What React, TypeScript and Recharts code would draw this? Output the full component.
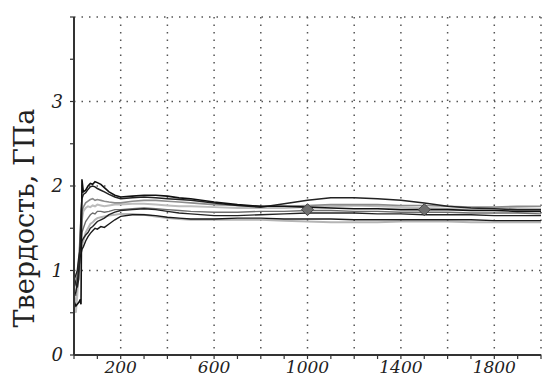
import React from 'react';
import {
  ComposedChart,
  Line,
  Scatter,
  XAxis,
  YAxis,
  CartesianGrid,
} from 'recharts';

// depth points (nm) shared by all curves
const depth = [2, 8, 14, 20, 26, 30, 34, 40, 50, 60, 70, 80, 90, 100, 115, 130, 150, 175, 200, 250, 300, 350, 400, 450, 500, 600, 700, 800, 900, 1000, 1100, 1200, 1300, 1400, 1500, 1600, 1700, 1800, 1900, 2000];

const curve1 = [0.62, 0.58, 0.6, 0.62, 0.65, 0.6, 2.08, 1.93, 1.95, 2.0, 2.03, 2.02, 2.05, 2.04, 2.02, 1.98, 1.93, 1.89, 1.87, 1.88, 1.89, 1.89, 1.88, 1.86, 1.85, 1.81, 1.78, 1.76, 1.76, 1.75, 1.74, 1.73, 1.73, 1.72, 1.72, 1.72, 1.71, 1.71, 1.7, 1.7];
const curve2 = [0.9, 0.85, 0.8, 0.9, 1.3, 1.7, 1.85, 1.9, 1.92, 1.96, 1.99, 2.0, 1.99, 1.97, 1.95, 1.93, 1.9, 1.87, 1.85, 1.86, 1.87, 1.86, 1.85, 1.84, 1.83, 1.8, 1.77, 1.75, 1.79, 1.83, 1.86, 1.86, 1.85, 1.83, 1.8, 1.76, 1.74, 1.73, 1.72, 1.72];
const curve3 = [0.75, 0.7, 0.85, 1.1, 1.4, 1.6, 1.7, 1.75, 1.8, 1.82, 1.84, 1.85, 1.83, 1.84, 1.83, 1.82, 1.81, 1.8, 1.8, 1.82, 1.83, 1.83, 1.82, 1.81, 1.8, 1.78, 1.77, 1.76, 1.76, 1.77, 1.78, 1.78, 1.78, 1.77, 1.77, 1.76, 1.75, 1.75, 1.76, 1.76];
const curve4 = [0.55, 0.5, 0.7, 1.0, 1.3, 1.5, 1.6, 1.7, 1.74, 1.76, 1.75, 1.77, 1.76, 1.78, 1.77, 1.76, 1.77, 1.78, 1.78, 1.79, 1.79, 1.78, 1.77, 1.76, 1.76, 1.75, 1.74, 1.74, 1.74, 1.75, 1.76, 1.77, 1.76, 1.75, 1.74, 1.73, 1.72, 1.74, 1.74, 1.73];
const curve5 = [0.8, 0.85, 0.95, 1.1, 1.25, 1.35, 1.45, 1.5, 1.58, 1.62, 1.66, 1.68, 1.67, 1.7, 1.7, 1.69, 1.7, 1.72, 1.72, 1.73, 1.74, 1.73, 1.72, 1.71, 1.7, 1.69, 1.69, 1.7, 1.7, 1.71, 1.71, 1.7, 1.7, 1.69, 1.69, 1.69, 1.68, 1.68, 1.68, 1.67];
const curve6 = [0.9, 0.95, 1.0, 1.15, 1.25, 1.3, 1.35, 1.38, 1.42, 1.45, 1.5, 1.52, 1.55, 1.58, 1.6, 1.62, 1.66, 1.69, 1.71, 1.72, 1.73, 1.72, 1.7, 1.68, 1.67, 1.65, 1.65, 1.66, 1.67, 1.68, 1.68, 1.68, 1.67, 1.67, 1.66, 1.66, 1.66, 1.65, 1.65, 1.65];
const curve7 = [0.7, 0.75, 0.85, 1.0, 1.15, 1.2, 1.25, 1.28, 1.35, 1.4, 1.44, 1.47, 1.5, 1.49, 1.52, 1.51, 1.55, 1.6, 1.64, 1.66, 1.66, 1.65, 1.63, 1.62, 1.61, 1.61, 1.62, 1.62, 1.61, 1.61, 1.61, 1.6, 1.6, 1.6, 1.6, 1.6, 1.6, 1.59, 1.59, 1.59];
const curve8 = [0.6, 0.65, 0.8, 0.95, 1.1, 1.2, 1.3, 1.35, 1.45, 1.5, 1.55, 1.57, 1.6, 1.62, 1.63, 1.64, 1.65, 1.66, 1.67, 1.67, 1.66, 1.64, 1.62, 1.61, 1.6, 1.6, 1.6, 1.6, 1.59, 1.58, 1.57, 1.57, 1.57, 1.58, 1.58, 1.58, 1.57, 1.57, 1.57, 1.57];

// averaged points marked with diamonds
const markX = [1000, 1500];
const markY = [1.72, 1.72];

const xTicks = [0, 100, 200, 300, 400, 500, 600, 700, 800, 900, 1000, 1100, 1200, 1300, 1400, 1500, 1600, 1700, 1800, 1900, 2000];
const xLabels = [200, 600, 1000, 1400, 1800];
const yTicks = [0, 0.5, 1, 1.5, 2, 2.5, 3, 3.5, 4];
const yLabels = [0, 1, 2, 3];
const gridX = [200, 400, 600, 800, 1000, 1200, 1400, 1600, 1800, 2000];
const gridY = [1, 2, 3, 4];

const series = [
  { key: 's8', data: curve8, color: '#b5b5b5', w: 2 },
  { key: 's4', data: curve4, color: '#bdbdbd', w: 2 },
  { key: 's3', data: curve3, color: '#8c8c8c', w: 1.6 },
  { key: 's5', data: curve5, color: '#6e6e6e', w: 1.4 },
  { key: 's7', data: curve7, color: '#1a1a1a', w: 1.4 },
  { key: 's6', data: curve6, color: '#222', w: 1.4 },
  { key: 's2', data: curve2, color: '#222', w: 1.5 },
  { key: 's1', data: curve1, color: '#111', w: 1.6 },
];

const rows = depth.map((x, i) => {
  const r: any = { x };
  series.forEach((s) => (r[s.key] = s.data[i]));
  return r;
});
const marks = markX.map((x, i) => ({ x, m: markY[i] }));

const serifItalic = { fontFamily: 'DejaVu Serif', fontStyle: 'italic', fontSize: 17, fill: '#222' };

const XTick = (p: any) => {
  const v = p.payload.value;
  if (!xLabels.includes(v)) return null;
  return (
    <text x={p.x} y={p.y + 11} textAnchor="middle" style={serifItalic}>
      {v}
    </text>
  );
};

const YTick = (p: any) => {
  const v = p.payload.value;
  if (!yLabels.includes(v)) return null;
  return (
    <text x={p.x} y={p.y + 6} textAnchor="end" style={{ ...serifItalic, fontSize: 18 }}>
      {v}
    </text>
  );
};

const Diamond = (p: any) => {
  const { cx, cy } = p;
  const r = 6;
  return (
    <polygon
      points={`${cx},${cy - r} ${cx + r},${cy} ${cx},${cy + r} ${cx - r},${cy}`}
      fill="#6f6f6f"
      stroke="#444"
      strokeWidth={1}
    />
  );
};

export default function App() {
  return (
    <div style={{ position: 'absolute', left: 0, top: 0, background: '#fff' }}>
      <ComposedChart width={544} height={378} data={rows} margin={{ top: 17, right: 3, bottom: 0, left: 0 }}>
        <CartesianGrid
          stroke="#555"
          strokeWidth={1.5}
          strokeDasharray="1.5 6"
          verticalValues={gridX}
          horizontalValues={gridY}
        />
        <XAxis
          dataKey="x"
          type="number"
          domain={[0, 2000]}
          ticks={xTicks}
          interval={0}
          height={23}
          tickSize={4}
          tickMargin={3}
          tick={<XTick />}
          axisLine={{ stroke: '#333', strokeWidth: 2 }}
          tickLine={{ stroke: '#333', strokeWidth: 1.2 }}
        />
        <YAxis
          type="number"
          domain={[0, 4]}
          ticks={yTicks}
          interval={0}
          width={74}
          tickSize={4}
          tickMargin={7}
          tick={<YTick />}
          axisLine={{ stroke: '#333', strokeWidth: 2 }}
          tickLine={{ stroke: '#333', strokeWidth: 1.2 }}
          label={{
            content: (props: any) => {
              const vb = props.viewBox;
              const cx = vb.x + 24;
              const cy = vb.y + vb.height / 2 + 32;
              return (
                <text
                  x={cx}
                  y={cy}
                  transform={`rotate(-90 ${cx} ${cy})`}
                  textAnchor="middle"
                  dominantBaseline="central"
                  fontFamily="DejaVu Serif"
                  fontSize={27}
                  fill="#222"
                >
                  Твердость, ГПа
                </text>
              );
            },
          }}
        />
        {series.map((s) => (
          <Line
            key={s.key}
            dataKey={s.key}
            type="linear"
            stroke={s.color}
            strokeWidth={s.w}
            dot={false}
            activeDot={false}
            isAnimationActive={false}
          />
        ))}
        <Scatter data={marks} dataKey="m" shape={Diamond} isAnimationActive={false} />
      </ComposedChart>
    </div>
  );
}
